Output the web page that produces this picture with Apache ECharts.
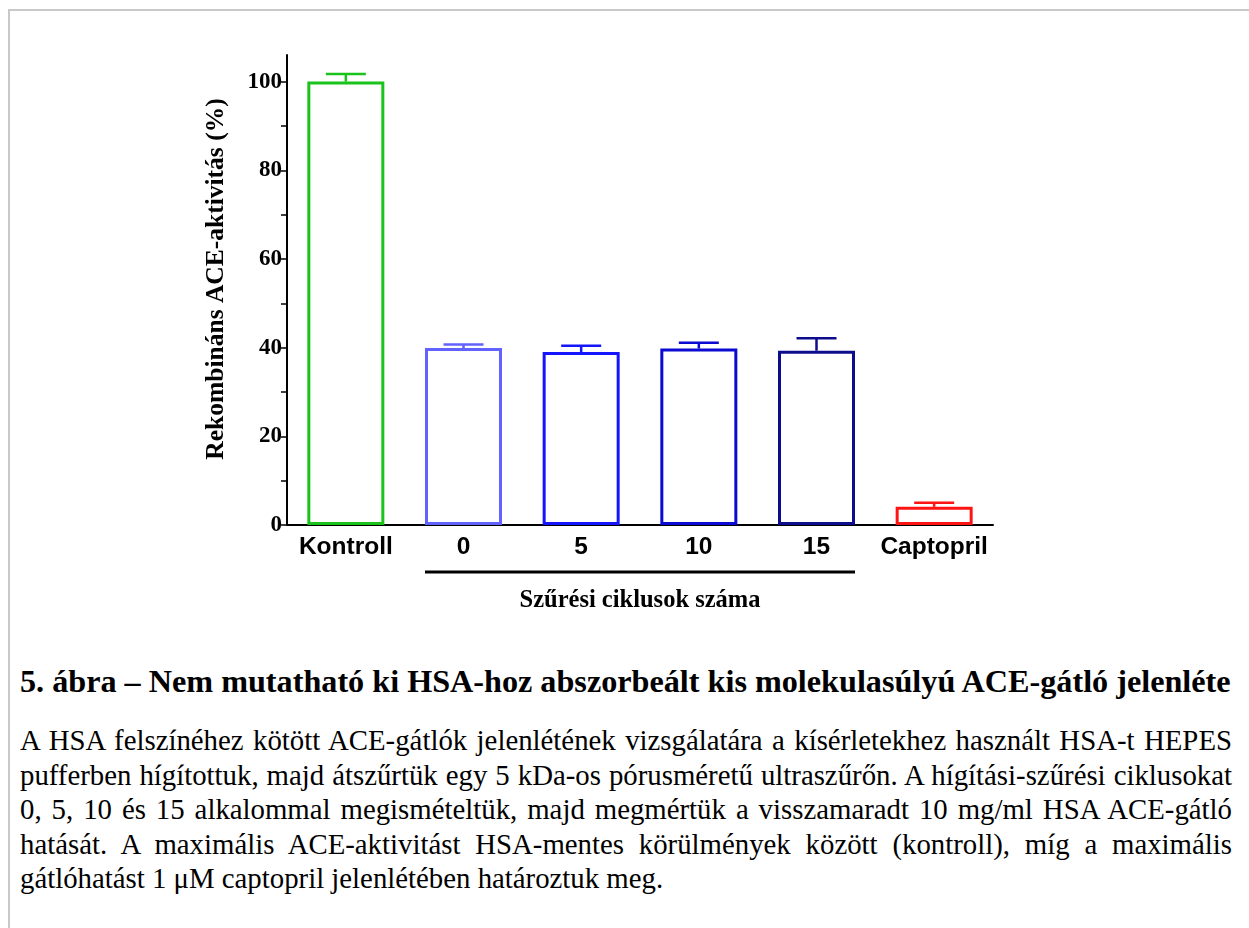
<!DOCTYPE html>
<html>
<head>
<meta charset="utf-8">
<script src="https://cdn.jsdelivr.net/npm/echarts@6/dist/echarts.min.js"></script>
<style>
  html, body { margin: 0; padding: 0; background: #fff; }
  body { width: 1249px; height: 928px; overflow: hidden; position: relative; }
  .frame { position: absolute; left: 8px; top: 9px; width: 1300px; height: 1000px; border: 2px solid #c9c9c9; }
  #chart { position: absolute; left: 0; top: 0; width: 1249px; height: 630px; }
  .caption { position: absolute; left: 20px; top: 661px; width: 1212px; font-family: "Liberation Serif", serif; color: #000; }
  .caption h3 { margin: 0; font-size: 32.2px; font-weight: bold; line-height: 40px; white-space: nowrap; }
  .caption p { margin: 22px 0 0 0; font-size: 28.8px; line-height: 34.5px; word-spacing: -1px; }
  .caption p span { display: block; text-align: justify; text-align-last: justify; white-space: nowrap; }
  .caption p span.last { text-align-last: left; word-spacing: 0; }
</style>
</head>
<body>
<div class="frame"></div>
<div id="chart"></div>
<div class="caption">
  <h3>5. ábra – Nem mutatható ki HSA-hoz abszorbeált kis molekulasúlyú ACE-gátló jelenléte</h3>
  <p>
    <span>A HSA felszínéhez kötött ACE-gátlók jelenlétének vizsgálatára a kísérletekhez használt HSA-t HEPES</span>
    <span>pufferben hígítottuk, majd átszűrtük egy 5 kDa-os pórusméretű ultraszűrőn. A hígítási-szűrési ciklusokat</span>
    <span>0, 5, 10 és 15 alkalommal megismételtük, majd megmértük a visszamaradt 10 mg/ml HSA ACE-gátló</span>
    <span>hatását. A maximális ACE-aktivitást HSA-mentes körülmények között (kontroll), míg a maximális</span>
    <span class="last">gátlóhatást 1 μM captopril jelenlétében határoztuk meg.</span>
  </p>
</div>
<script>
// adatok
const categories = ['Kontroll', '0', '5', '10', '15', 'Captopril'];
const means = [100, 39.9, 39.0, 39.8, 39.3, 4.1];
const errors = [1.7, 0.8, 1.4, 1.3, 2.8, 0.9];
const barColors = ['#19c319', '#6262ff', '#1414ff', '#0a0ad2', '#0c0c8c', '#ff1414'];
const yLabelTicks = [0, 20, 40, 60, 80, 100];
const yMinorTicks = [0, 10, 20, 30, 40, 50, 60, 70, 80, 90, 100];
const cycleGroup = ['0', '15'];

const chart = echarts.init(document.getElementById('chart'));

const option = {
  animation: false,
  grid: { left: 287, top: 55, width: 706, height: 470, containLabel: false },
  xAxis: {
    type: 'category',
    data: categories,
    name: 'Szűrési ciklusok száma',
    nameLocation: 'middle',
    nameGap: 63,
    nameTextStyle: { fontFamily: 'Liberation Serif', fontWeight: 'bold', fontSize: 24.5, color: '#000' },
    axisLine: { lineStyle: { color: '#000', width: 2 } },
    axisTick: { alignWithLabel: true, length: 5, lineStyle: { color: '#000', width: 1.5 } },
    axisLabel: { interval: 0, fontFamily: 'Liberation Sans', fontWeight: 'bold', fontSize: 24.5, color: '#000', margin: 10 },
    splitLine: { show: false }
  },
  yAxis: {
    type: 'value',
    min: 0,
    max: 106,
    interval: 10,
    name: 'Rekombináns ACE-aktivitás (%)',
    nameLocation: 'middle',
    nameGap: 58,
    nameTextStyle: { fontFamily: 'Liberation Serif', fontWeight: 'bold', fontSize: 25.5, color: '#000', padding: [0, 0, 0, 22] },
    axisLine: { show: true, lineStyle: { color: '#000', width: 2 } },
    axisTick: { show: true, length: 6, customValues: yMinorTicks, lineStyle: { color: '#000', width: 1.5 } },
    axisLabel: { customValues: yLabelTicks, fontFamily: 'Liberation Serif', fontWeight: 'bold', fontSize: 23, color: '#000', margin: 5 },
    splitLine: { show: false }
  },
  series: [
    {
      type: 'bar',
      barWidth: 77,
      data: means.map((v, i) => ({
        value: v,
        itemStyle: { color: '#fff', borderColor: barColors[i], borderWidth: 3 }
      })),
      z: 2
    },
    {
      type: 'custom',
      z: 3,
      data: means.map((v, i) => [i, v, v + errors[i]]),
      renderItem: function (params, api) {
        const i = api.value(0);
        const p0 = api.coord([i, api.value(1)]);
        const p1 = api.coord([i, api.value(2)]);
        const half = 20;
        const style = { stroke: barColors[i], lineWidth: 2.5 };
        return {
          type: 'group',
          children: [
            { type: 'line', shape: { x1: p0[0], y1: p0[1], x2: p1[0], y2: p1[1] }, style: style },
            { type: 'line', shape: { x1: p1[0] - half, y1: p1[1], x2: p1[0] + half, y2: p1[1] }, style: style }
          ]
        };
      }
    }
  ]
};

chart.setOption(option);

// vonal a szűrési ciklusok alatt
const pStart = chart.convertToPixel({ xAxisIndex: 0 }, cycleGroup[0]);
const pEnd = chart.convertToPixel({ xAxisIndex: 0 }, cycleGroup[1]);
chart.setOption({
  graphic: [{
    type: 'line',
    shape: { x1: pStart - 38.5, y1: 572, x2: pEnd + 38.5, y2: 572 },
    style: { stroke: '#000', lineWidth: 3 }
  }]
});
</script>
</body>
</html>
